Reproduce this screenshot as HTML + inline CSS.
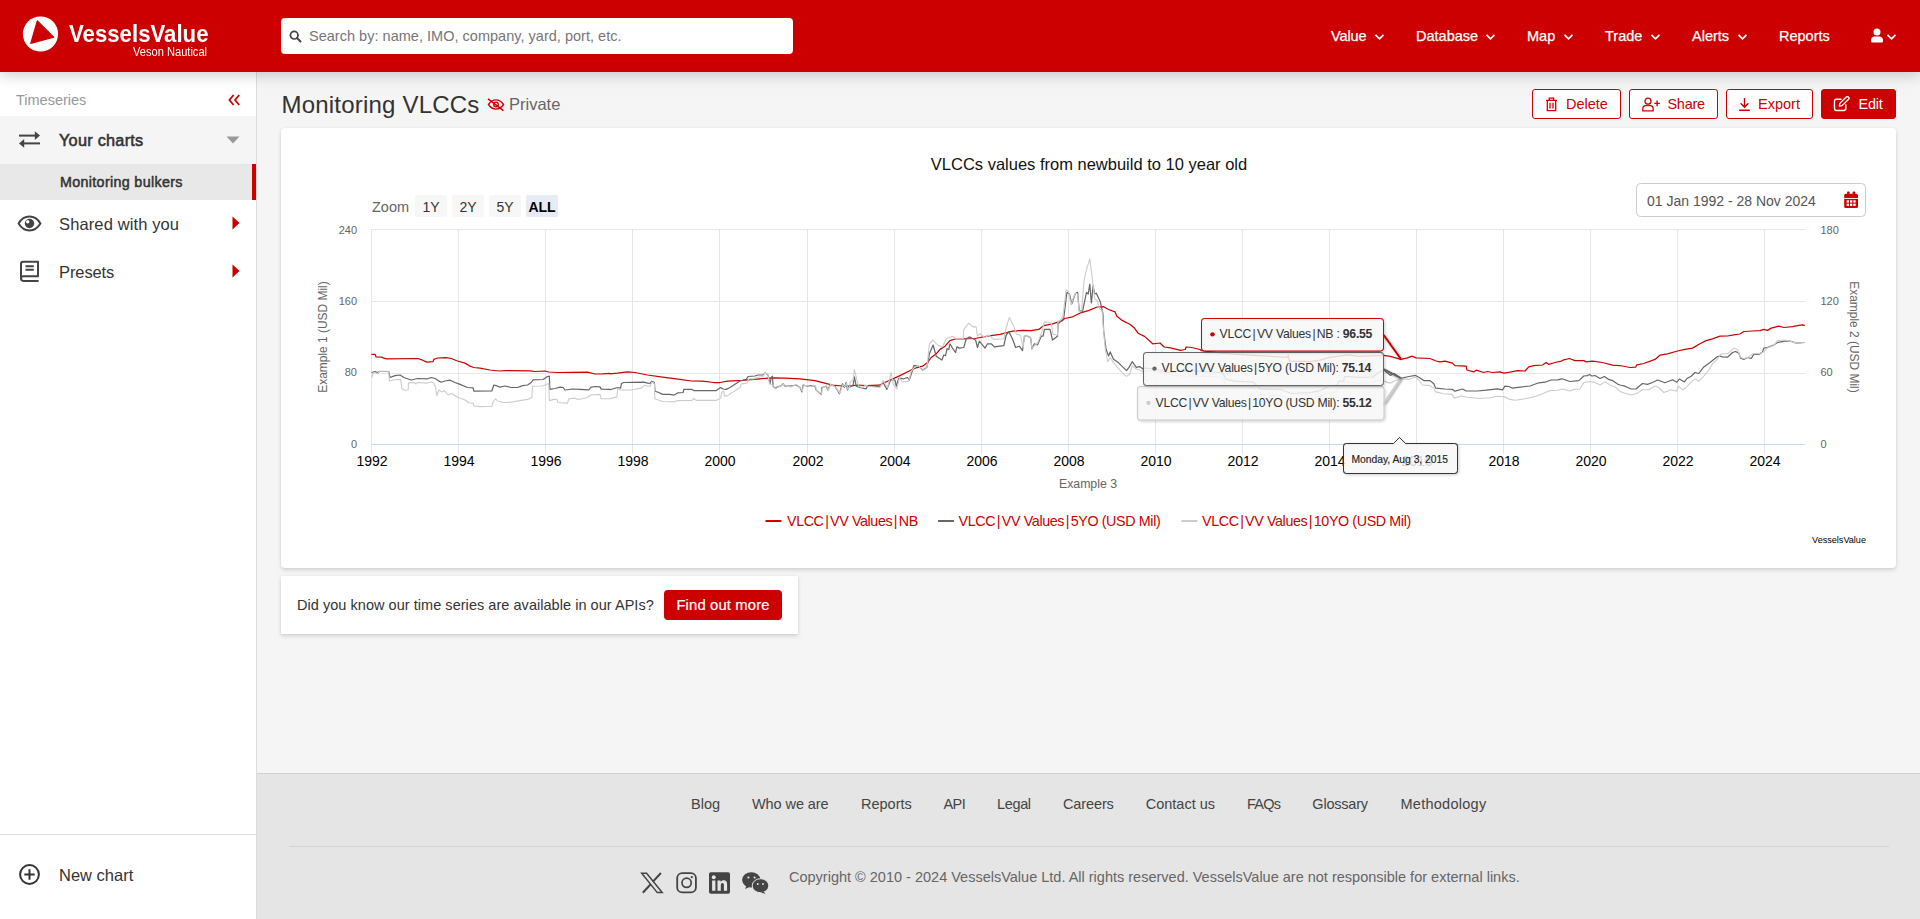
<!DOCTYPE html>
<html lang="en">
<head>
<meta charset="utf-8">
<title>Monitoring VLCCs - VesselsValue</title>
<style>
*{box-sizing:border-box;margin:0;padding:0}
html,body{width:1920px;height:919px;overflow:hidden}
body{font-family:"Liberation Sans",sans-serif;background:#f5f5f5;color:#333;position:relative;font-size:14px}
.abs{position:absolute;white-space:nowrap}
/* header */
#hdr{position:absolute;left:0;top:0;width:1920px;height:72px;background:#cc0000;box-shadow:0 3px 14px rgba(0,0,0,.2);z-index:10}
#logo-t{left:69px;top:19px;font-size:24px;font-weight:bold;color:#fff;line-height:30px;transform:scaleX(.925);transform-origin:0 0}
#logo-s{left:133px;top:45px;font-size:12px;color:#fff;line-height:14px;transform:scaleX(.925);transform-origin:0 0}
#search{position:absolute;left:281px;top:18px;width:512px;height:36px;background:#fff;border-radius:4px}
#search span{position:absolute;left:28px;top:1px;line-height:35px;font-size:14.5px;letter-spacing:.02px;color:#777}
.nav{position:absolute;top:.5px;line-height:71px;color:#fff;font-size:14.5px;white-space:nowrap;-webkit-text-stroke:.25px #fff}
.chev{position:absolute;top:33px;width:11px;height:8px}
/* sidebar */
#side{position:absolute;left:0;top:72px;width:257px;height:847px;background:#fff;border-right:1px solid #dcdcdc}
.row{position:absolute;left:0;width:256px}
.row .t{position:absolute;left:59px;white-space:nowrap;color:#333}
/* main */
#title{left:281.5px;top:88.5px;font-size:24px;line-height:32px;color:#333;letter-spacing:.2px}
.btn{position:absolute;top:89px;height:30px;border:1px solid #cc0000;border-radius:3px;background:#fff;color:#cc0000;font-size:14.5px;line-height:28px;white-space:nowrap}
.btn span{position:absolute;top:0}
.card{position:absolute;background:#fff;border-radius:4px;box-shadow:0 2px 4px rgba(0,0,0,.15),0 0 2px rgba(0,0,0,.05)}
/* footer */
#foot{position:absolute;left:257px;top:773px;width:1663px;height:146px;background:#e5e5e5;border-top:1px solid #d0d0d0}
#foot a{position:absolute;top:20px;font-size:14.5px;color:#444;line-height:20px;text-decoration:none;white-space:nowrap}
</style>
</head>
<body>

<!-- ================= HEADER ================= -->
<div id="hdr">
  <svg class="abs" style="left:22px;top:15px" width="38" height="38" viewBox="0 0 38 38">
    <circle cx="18.5" cy="19" r="17.6" fill="#fff"/>
    <path d="M15.300 5.800 L31.700 22.200 L8.800 28.300 Z" fill="#cc0000" stroke="#cc0000" stroke-width="1.200" stroke-linejoin="round"/>
  </svg>
  <div id="logo-t" class="abs">VesselsValue</div>
  <div id="logo-s" class="abs">Veson Nautical</div>

  <div id="search">
    <svg class="abs" style="left:7.500px;top:11.500px" width="13" height="13" viewBox="0 0 13 13"><circle cx="5.200" cy="5.200" r="3.800" fill="none" stroke="#444" stroke-width="1.700"/><path d="M8 8 L11.500 11.500" stroke="#444" stroke-width="2" stroke-linecap="round"/></svg>
    <span>Search by: name, IMO, company, yard, port, etc.</span>
  </div>

  <div class="nav" style="left:1331px;letter-spacing:-.1px">Value</div>
  <svg class="chev" style="left:1374px" viewBox="0 0 11 8"><path d="M1.5 1.8 L5.5 5.8 L9.5 1.8" fill="none" stroke="#fff" stroke-width="1.7"/></svg>
  <div class="nav" style="left:1416px">Database</div>
  <svg class="chev" style="left:1485px" viewBox="0 0 11 8"><path d="M1.5 1.8 L5.5 5.8 L9.5 1.8" fill="none" stroke="#fff" stroke-width="1.7"/></svg>
  <div class="nav" style="left:1527px">Map</div>
  <svg class="chev" style="left:1563px" viewBox="0 0 11 8"><path d="M1.5 1.8 L5.5 5.8 L9.5 1.8" fill="none" stroke="#fff" stroke-width="1.7"/></svg>
  <div class="nav" style="left:1605px">Trade</div>
  <svg class="chev" style="left:1650px" viewBox="0 0 11 8"><path d="M1.5 1.8 L5.5 5.8 L9.5 1.8" fill="none" stroke="#fff" stroke-width="1.7"/></svg>
  <div class="nav" style="left:1692px">Alerts</div>
  <svg class="chev" style="left:1737px" viewBox="0 0 11 8"><path d="M1.5 1.8 L5.5 5.8 L9.5 1.8" fill="none" stroke="#fff" stroke-width="1.7"/></svg>
  <div class="nav" style="left:1779px">Reports</div>
  <svg class="abs" style="left:1870px;top:28px" width="14" height="15" viewBox="0 0 14 15"><circle cx="7" cy="4" r="3.500" fill="#fff"/><path d="M1 13.200 V12 C1 9.700 2.700 8.500 4.600 8.500 H9.400 C11.300 8.500 13 9.700 13 12 V13.200 C13 14 12.500 14.500 11.700 14.500 H2.300 C1.500 14.500 1 14 1 13.200 Z" fill="#fff"/></svg>
  <svg class="chev" style="left:1886px" viewBox="0 0 11 8"><path d="M1.5 1.8 L5.5 5.8 L9.5 1.8" fill="none" stroke="#fff" stroke-width="1.7"/></svg>
</div>

<!-- ================= SIDEBAR ================= -->
<div id="side">
  <div class="abs" style="left:16px;top:18px;font-size:14.5px;line-height:20px;color:#999">Timeseries</div>
  <svg class="abs" style="left:228px;top:22px" width="13" height="12" viewBox="0 0 13 12"><path d="M5.6 1 L1.4 6 L5.6 11 M11.2 1 L7 6 L11.2 11" fill="none" stroke="#cc0000" stroke-width="1.800"/></svg>

  <div class="row" style="top:44px;height:48px;background:#f5f5f5">
    <svg class="abs" style="left:18px;top:15px" width="23" height="20" viewBox="0 0 23 20"><path d="M1 4.600 H17.500" stroke="#444" stroke-width="2"/><path d="M16.800 0.300 L22 4.600 L16.800 8.900 Z" fill="#444"/><path d="M22 12.400 H5.500" stroke="#444" stroke-width="2"/><path d="M6.200 8.100 L1 12.400 L6.200 16.700 Z" fill="#444"/></svg>
    <div class="t" style="top:13px;font-size:16.3px;line-height:22px;-webkit-text-stroke:.55px #333;letter-spacing:.25px">Your charts</div>
    <svg class="abs" style="left:226px;top:20px" width="14" height="8" viewBox="0 0 14 8"><path d="M0.5 0.5 H13.5 L7 7.5 Z" fill="#999"/></svg>
  </div>
  <div class="row" style="top:92px;height:36px;background:#e8e8e8">
    <div class="t" style="left:60px;top:8px;font-size:14.3px;line-height:20px;-webkit-text-stroke:.5px #333;letter-spacing:.33px">Monitoring bulkers</div>
    <div class="abs" style="left:252px;top:0;width:4px;height:36px;background:#cc0000"></div>
  </div>
  <div class="row" style="top:128px;height:48px">
    <svg class="abs" style="left:17px;top:15px" width="26" height="18" viewBox="0 0 26 18"><path d="M1.600 8.500 C5 2.800 8.800 1.600 12.500 1.600 C16.200 1.600 20 2.800 23.400 8.500 C20 14.200 16.200 15.400 12.500 15.400 C8.800 15.400 5 14.200 1.600 8.500 Z" fill="none" stroke="#444" stroke-width="2"/><circle cx="12.500" cy="8.500" r="4.700" fill="#444"/><circle cx="10.700" cy="6.700" r="1.700" fill="#fff"/></svg>
    <div class="t" style="top:13px;font-size:16.5px;line-height:22px;letter-spacing:.12px">Shared with you</div>
    <svg class="abs" style="left:232px;top:15.500px" width="8" height="14" viewBox="0 0 8 14"><path d="M0.5 0.5 L7.5 7 L0.5 13.500 Z" fill="#cc0000"/></svg>
  </div>
  <div class="row" style="top:176px;height:48px">
    <svg class="abs" style="left:19px;top:12.300px" width="21" height="23" viewBox="0 0 21 23"><path d="M2 18.500 V4 C2 2.600 2.900 1.700 4.300 1.700 H19 V16.300 H4.500 C3 16.300 2 17.200 2 18.600 C2 20 3 20.900 4.500 20.900 H19.600" fill="none" stroke="#444" stroke-width="2" stroke-linejoin="round"/><path d="M6.500 6.300 H14.800 M6.500 9.800 H14.800" stroke="#444" stroke-width="1.900"/></svg>
    <div class="t" style="top:13px;font-size:16.5px;line-height:22px;letter-spacing:-.1px">Presets</div>
    <svg class="abs" style="left:232px;top:15.500px" width="8" height="14" viewBox="0 0 8 14"><path d="M0.5 0.5 L7.5 7 L0.5 13.500 Z" fill="#cc0000"/></svg>
  </div>

  <div class="abs" style="left:0;top:762px;width:256px;height:1px;background:#ddd"></div>
  <svg class="abs" style="left:18px;top:791px" width="23" height="23" viewBox="0 0 23 23"><circle cx="11.500" cy="11.500" r="9.400" fill="none" stroke="#333" stroke-width="2"/><path d="M6.300 11.500 H16.700 M11.500 6.300 V16.700" stroke="#333" stroke-width="2"/></svg>
  <div class="abs" style="left:59px;top:792px;font-size:16.5px;line-height:22px;color:#333">New chart</div>
</div>

<!-- ================= TITLE + BUTTONS ================= -->
<div id="title" class="abs">Monitoring VLCCs</div>
<svg class="abs" style="left:486px;top:96px" width="20" height="17" viewBox="0 0 20 17"><path d="M2.500 8.500 C5 4.800 7.500 3.900 10 3.900 C12.500 3.900 15 4.800 17.500 8.500 C15 12.200 12.500 13.100 10 13.100 C7.500 13.100 5 12.200 2.500 8.500 Z" fill="none" stroke="#cc0000" stroke-width="1.400"/><circle cx="10" cy="8.500" r="2.300" fill="none" stroke="#cc0000" stroke-width="1.300"/><path d="M2 2.800 L17.500 14.600" stroke="#cc0000" stroke-width="1.500"/></svg>
<div class="abs" style="left:509px;top:93px;font-size:16.500px;line-height:22px;color:#666">Private</div>

<div class="btn" style="left:1532px;width:89px">
  <svg class="abs" style="left:12px;top:7px" width="13" height="15" viewBox="0 0 13 15"><path d="M1 3.300 H12 M4.300 3 V1.200 H8.700 V3 M2.300 3.500 V13.600 H10.700 V3.500 M5 5.800 V11.400 M8 5.800 V11.400" fill="none" stroke="#cc0000" stroke-width="1.300"/></svg>
  <span style="left:33px">Delete</span>
</div>
<div class="btn" style="left:1629px;width:89px">
  <svg class="abs" style="left:12px;top:7px" width="19" height="15" viewBox="0 0 19 15"><circle cx="6" cy="4.200" r="3" fill="none" stroke="#cc0000" stroke-width="1.300"/><path d="M0.800 13.800 V12 C0.800 9.800 2.300 8.700 4 8.700 H8 C9.700 8.700 11.200 9.800 11.200 12 V13.800 Z" fill="none" stroke="#cc0000" stroke-width="1.300"/><path d="M12.300 6.400 H17.900 M15.100 3.600 V9.200" stroke="#cc0000" stroke-width="1.400"/></svg>
  <span style="left:37.500px;letter-spacing:-.3px">Share</span>
</div>
<div class="btn" style="left:1726px;width:87px">
  <svg class="abs" style="left:11px;top:7px" width="13" height="15" viewBox="0 0 13 15"><path d="M6.500 1 V10 M2.600 6.300 L6.500 10.200 L10.400 6.300 M1.200 13.300 H11.800" fill="none" stroke="#cc0000" stroke-width="1.400"/></svg>
  <span style="left:31px">Export</span>
</div>
<div class="btn" style="left:1821px;width:75px;background:#cc0000;color:#fff">
  <svg class="abs" style="left:11px;top:6px" width="18" height="16" viewBox="0 0 18 16"><path d="M8.500 3.200 H3.400 C2.300 3.200 1.500 4 1.500 5.100 V12.600 C1.500 13.700 2.300 14.500 3.400 14.500 H10.900 C12 14.500 12.800 13.700 12.800 12.600 V8.300" fill="none" stroke="#fff" stroke-width="1.400"/><path d="M6.300 10 L6.800 7.400 L13.300 1 C13.900 0.400 14.700 0.400 15.300 1 L15.600 1.300 C16.200 1.900 16.200 2.700 15.600 3.300 L9.100 9.600 Z" fill="none" stroke="#fff" stroke-width="1.300" stroke-linejoin="round"/></svg>
  <span style="left:36.500px;letter-spacing:-.25px">Edit</span>
</div>

<!-- ================= CHART CARD ================= -->
<div class="card" style="left:281px;top:128px;width:1615px;height:440px"></div>
<svg class="abs" style="left:281px;top:128px" width="1615" height="439" viewBox="281 128 1615 439" font-family='"Liberation Sans",sans-serif'>
<defs><filter id="sh" x="-10%" y="-20%" width="120%" height="150%"><feDropShadow dx="1" dy="1" stdDeviation=".9" flood-color="#000" flood-opacity=".34"/></filter><filter id="sh2" filterUnits="userSpaceOnUse" x="1370" y="320" width="50" height="100"><feDropShadow dx="1" dy="1" stdDeviation=".8" flood-color="#000" flood-opacity=".3"/></filter><clipPath id="plot"><rect x="371" y="229" width="1435" height="216"/></clipPath></defs>
<text x="1089" y="169.500" text-anchor="middle" font-size="16.500" fill="#111">VLCCs values from newbuild to 10 year old</text>
<text x="372" y="212" font-size="14.500" fill="#666">Zoom</text>
<rect x="415" y="195" width="32" height="22" rx="2" fill="#f7f7f7"/>
<text x="431" y="212" text-anchor="middle" font-size="14" fill="#333">1Y</text>
<rect x="452" y="195" width="32" height="22" rx="2" fill="#f7f7f7"/>
<text x="468" y="212" text-anchor="middle" font-size="14" fill="#333">2Y</text>
<rect x="489" y="195" width="32" height="22" rx="2" fill="#f7f7f7"/>
<text x="505" y="212" text-anchor="middle" font-size="14" fill="#333">5Y</text>
<rect x="526" y="195" width="32" height="22" rx="2" fill="#e6ebf5"/>
<text x="542" y="212" text-anchor="middle" font-size="14" fill="#000" font-weight="bold">ALL</text>
<rect x="1636.500" y="183.500" width="229" height="33" rx="4" fill="#fff" stroke="#ccc"/>
<text x="1647" y="205.500" font-size="14" fill="#555">01 Jan 1992 - 28 Nov 2024</text>
<g fill="#cc0000"><rect x="1844.200" y="193.700" width="13.800" height="14.300" rx="1.600"/><rect x="1847.100" y="191.500" width="2.500" height="4" rx=".7"/><rect x="1852.700" y="191.500" width="2.500" height="4" rx=".7"/></g>
<rect x="1844.200" y="198.100" width="13.800" height=".9" fill="#fff"/>
<g fill="#fff">
<rect x="1846.65" y="200.30" width="2.300" height="2.300"/>
<rect x="1850.00" y="200.30" width="2.300" height="2.300"/>
<rect x="1853.35" y="200.30" width="2.300" height="2.300"/>
<rect x="1846.65" y="203.65" width="2.300" height="2.300"/>
<rect x="1850.00" y="203.65" width="2.300" height="2.300"/>
<rect x="1853.35" y="203.65" width="2.300" height="2.300"/>
</g>
<g stroke="#e6e6e6" stroke-width="1">
<path d="M371.5 230 V454"/>
<path d="M458.5 230 V454"/>
<path d="M545.5 230 V454"/>
<path d="M632.5 230 V454"/>
<path d="M719.5 230 V454"/>
<path d="M807.5 230 V454"/>
<path d="M894.5 230 V454"/>
<path d="M981.5 230 V454"/>
<path d="M1068.5 230 V454"/>
<path d="M1155.5 230 V454"/>
<path d="M1242.5 230 V454"/>
<path d="M1329.5 230 V454"/>
<path d="M1416.5 230 V454"/>
<path d="M1503.5 230 V454"/>
<path d="M1590.5 230 V454"/>
<path d="M1677.5 230 V454"/>
<path d="M1764.5 230 V454"/>
<path d="M371 229.5 H1805"/>
<path d="M371 301.5 H1805"/>
<path d="M371 373.5 H1805"/>
</g>
<g stroke="#ccd6eb" stroke-width="1"><path d="M371 444.500 H1805"/></g>
<g font-size="14" fill="#000" text-anchor="middle">
<text x="372" y="466">1992</text>
<text x="459" y="466">1994</text>
<text x="546" y="466">1996</text>
<text x="633" y="466">1998</text>
<text x="720" y="466">2000</text>
<text x="808" y="466">2002</text>
<text x="895" y="466">2004</text>
<text x="982" y="466">2006</text>
<text x="1069" y="466">2008</text>
<text x="1156" y="466">2010</text>
<text x="1243" y="466">2012</text>
<text x="1330" y="466">2014</text>
<text x="1417" y="466">2016</text>
<text x="1504" y="466">2018</text>
<text x="1591" y="466">2020</text>
<text x="1678" y="466">2022</text>
<text x="1765" y="466">2024</text>
</g>
<g font-size="11" fill="#666" text-anchor="end">
<text x="357" y="234">240</text>
<text x="357" y="304.8">160</text>
<text x="357" y="376.3">80</text>
<text x="357" y="448">0</text>
</g><g font-size="11" fill="#666">
<text x="1820.500" y="234">180</text>
<text x="1820.500" y="304.8">120</text>
<text x="1820.500" y="376.3">60</text>
<text x="1820.500" y="448">0</text>
</g>
<text transform="translate(327,337) rotate(-90)" text-anchor="middle" font-size="11.950" fill="#666">Example 1 (USD Mil)</text>
<text transform="translate(1850,337) rotate(90)" text-anchor="middle" font-size="11.950" fill="#666">Example 2 (USD Mil)</text>
<text x="1088" y="488" text-anchor="middle" font-size="12.300" fill="#666">Example 3</text>
<g clip-path="url(#plot)" fill="none" stroke-linejoin="round" stroke-linecap="round">
<path d="M371.9 354.4 L375.2 354.4 L376 356.9 L381.9 357.1 L383.8 358.2 L386.9 358.8 L418.1 358.5 L422.5 360.2 L426.9 362.1 L433.1 361.6 L433.8 359.4 L437.5 358 L446.2 357.6 L451.2 358.5 L457.5 361 L465 363.1 L470 366.2 L473.8 367.5 L480 368.1 L490 370 L498.8 371 L506.2 370.6 L530 370.8 L535 371.5 L545 371 L548.8 372 L557.5 372.5 L587.5 372.1 L595 374 L602.5 373.8 L609.8 373.4 L610 373.8 L617.5 373.1 L627.5 371.9 L635 372.5 L647.5 375 L662.5 377.2 L680 379.4 L691.2 381 L702.5 381.2 L713.8 382.5 L720 382.5 L727.5 381.2 L742.5 380.4 L760 378.8 L772.5 377.8 L785 378.1 L800 378.8 L815 380.6 L832.5 385.2 L842.5 386 L849.8 386.2 L850 386.2 L857.5 385 L866.2 385.6 L878.8 385.2 L887.5 381.2 L900 375.6 L908.8 371.2 L915 368.1 L922.5 366.2 L927.5 362.5 L931.2 357.5 L936.2 353.8 L940 349.4 L945 346.2 L950 340.6 L955 339 L962.5 338.8 L975 338.5 L987.5 336.2 L1000 334.4 L1012.5 331.2 L1022.5 330.4 L1031.2 330.6 L1038.8 329.4 L1043.8 325.6 L1052.5 323.8 L1062.5 320.6 L1064.5 318.5 L1072.7 316.8 L1080.8 312.8 L1089 310.3 L1097.1 307 L1103.7 306.7 L1108.6 309.5 L1115.1 311.9 L1116.7 316 L1121.6 320.1 L1129.8 324.2 L1134.7 328.3 L1138 333.2 L1144.5 336.4 L1152.7 343.8 L1160 343 L1164.1 347 L1170.6 347.9 L1180.4 350.3 L1185.3 349.5 L1186.1 347 L1191.8 347.5 L1200 349.5 L1201.5 350.7 L1224.7 353.5 L1253.3 355.4 L1287.5 357.4 L1288.5 355.4 L1289.4 361.2 L1310.4 361.7 L1319.9 360.2 L1329.4 357.4 L1348.4 354.9 L1358 356.4 L1383.7 355.4 L1390.3 356.4 L1400.8 359.3 L1407.5 357.8 L1411.9 356.2 L1416.2 357.8 L1430 358.5 L1436.2 361 L1440 361.9 L1445 361.2 L1452.5 363.1 L1455 365.6 L1466.2 366.2 L1466.9 370 L1473.8 371.9 L1476.2 370.2 L1483.8 372.5 L1487.5 371.5 L1492.5 372.5 L1500 371.9 L1503.8 373.1 L1510 372.2 L1517.5 370.6 L1525 371 L1528.8 366.9 L1533.8 365.6 L1542.5 365 L1546.2 362.5 L1548.8 364.4 L1555 362.5 L1561.2 361.2 L1563.8 359.8 L1569.4 358.5 L1575 360.6 L1583.8 360.6 L1586.2 361.9 L1592.5 361.2 L1602.5 362.5 L1612.5 365.2 L1619.8 365.6 L1622.5 366 L1630 367.5 L1635.6 367.2 L1636.9 364.8 L1643.8 363.5 L1655 359.4 L1660 355.2 L1667.5 353.8 L1677.5 351 L1685 349.4 L1692.5 348.1 L1700 343.8 L1706.2 340.6 L1712.5 338.8 L1720 336.2 L1727.5 336 L1733.8 334.8 L1740 334 L1743.8 331.5 L1752.5 331 L1760 330.6 L1763.8 329.4 L1767.5 330.4 L1771.2 328.1 L1778.8 326.2 L1783.8 327.5 L1792.5 326.6 L1798.8 325.4 L1802.5 324.8 L1804.4 325.4" stroke="#cc0000" stroke-width="1.250"/>
<path d="M371.9 372.5 L375 371.5 L377.5 372.5 L380 371.5 L388.8 371.5 L390 377.5 L395 375.6 L400 375 L403.8 377.5 L411.2 380 L417.5 378.5 L427.5 378.8 L431.2 377.5 L435 378.5 L438.1 380.6 L441.2 382.2 L445 381 L450 380.2 L455 382.5 L460 384.4 L467.5 387.5 L473.1 387.9 L473.8 391.2 L491.9 391 L493.8 385 L496.2 385.6 L500 387.2 L505 386 L511.2 387.5 L517.5 387.5 L522.5 385.6 L527.5 385 L531.2 382.5 L533.1 379.8 L543.1 379.5 L547.5 376.5 L549.4 376.2 L549.8 389.4 L555 388.5 L560 387.2 L563.1 387.5 L565 390 L572.5 389 L580 389.4 L588.8 389.8 L591.2 387.1 L595 386.5 L600 386.9 L601.2 389.1 L609.8 389.4 L610 389.8 L617.5 387.5 L620.6 388.1 L621.5 383.5 L623.8 382.5 L643.8 382.2 L647.5 383.1 L650 383.5 L651.9 381.2 L654.4 382.5 L655 391.2 L658.8 392.5 L662.5 394.4 L670 394.4 L673.8 395.2 L678.1 392.8 L683.1 392.5 L683.8 389.4 L691.9 389.4 L693.8 390.6 L716.2 390.6 L720.6 387.5 L723.1 389 L726.2 389.4 L730 387.5 L740 381 L746.2 379.4 L748.1 376.5 L755 376 L758.1 375 L763.1 374.8 L765 372.8 L768.1 375 L770 383.8 L771.2 377.5 L772.5 376.2 L773.1 386.2 L775 388.1 L781.2 385.6 L783.1 383.8 L785 386.2 L790 386.2 L796.2 385 L800 387.5 L801.9 391.9 L803.1 385 L807.5 386.2 L810 385.6 L815 386.2 L816.2 390 L821.2 394.4 L821.9 387.5 L826.2 386.2 L828.1 390 L830 385 L835 386.2 L839.4 393.8 L842.5 383.8 L844.4 387.5 L846.2 382.5 L847.5 390 L849.8 385 L850 386.9 L853.1 385 L854.4 376.9 L856.2 386.2 L860 387.5 L866.2 388.8 L867.5 386.2 L880 386.5 L883.1 382.5 L886.9 389.4 L890.6 380 L895 380 L896.2 386.2 L898.8 378.1 L903.8 378.8 L907.5 377.5 L909.4 380 L912.5 370 L913.8 365.6 L918.1 365.6 L922.5 370 L926.9 367.5 L929.4 353.8 L933.1 345 L936.2 356.2 L941.9 360 L943.8 355 L945.6 355.6 L946.9 348.8 L948.8 349.4 L950 343.8 L952.5 348.1 L955.6 352.5 L956.9 346.9 L959.4 348.1 L963.8 347.5 L966.2 338.8 L969.4 336.9 L973.1 338.8 L975.6 340 L977.5 347.5 L979.4 341.2 L985 348.1 L987.5 343.8 L991.2 343.8 L994.4 346.9 L1003.8 345.6 L1006.2 335 L1008.8 331.9 L1012.5 338.8 L1015.6 347.5 L1019.4 346.2 L1022.5 350.6 L1024.4 336.2 L1027.5 336.2 L1030.6 337.5 L1031.9 348.8 L1034.4 343.8 L1037.5 345 L1041.2 336.2 L1043.1 336.2 L1044.4 329.4 L1050 329.4 L1052.5 340 L1057.5 336.2 L1058.1 323.1 L1058.8 323.4 L1063.7 318.5 L1066.9 292.3 L1069.4 294 L1071.8 303.8 L1075.1 294 L1077.6 292.3 L1079.2 310.3 L1082.4 311.9 L1086.5 292.3 L1088.2 294 L1089.8 284.2 L1091.4 303 L1093.1 285.8 L1094.7 294 L1096.3 293.2 L1100.4 302.1 L1102.9 313.6 L1103.7 331.5 L1106.1 349.5 L1108.6 356 L1110.2 351.9 L1113.5 359.3 L1118.4 362.6 L1121.6 365.8 L1126.5 370.7 L1129 367.4 L1132.2 361.7 L1136.3 367.4 L1139.6 366.6 L1142.9 369.1 L1143.2 367.8 L1158.1 369.7 L1167.6 372.6 L1186.6 370.7 L1205.7 371.6 L1222.8 372.6 L1225.7 379.2 L1234.2 381.1 L1253.3 382.1 L1259.9 388.8 L1281.8 389.7 L1291.3 393.5 L1310.4 392.6 L1319.9 390.7 L1327.5 386.9 L1337 385 L1338.9 381.1 L1343.7 381.1 L1344.6 376.4 L1358 377.3 L1373.2 377 L1377 373.5 L1383.7 369.7 L1390.3 375.4 L1394.1 373.5 L1400.8 378.3 L1408.8 376.5 L1415.6 375.4 L1420 378.1 L1423.8 380.6 L1430 380.6 L1433.8 383.8 L1435.6 388.1 L1445 389 L1452.5 389.4 L1455 391.2 L1462.5 389 L1466.2 391 L1477.5 391 L1486.2 390.2 L1497.5 388.8 L1502.5 389.8 L1505 386.2 L1508.8 386.5 L1512.5 388.1 L1520 387.2 L1530 386 L1538.8 382.8 L1545 382.2 L1551.2 380 L1557.5 379.8 L1561.9 378.8 L1570 381.5 L1578.8 380.6 L1583.8 376 L1587.5 375.6 L1589.4 374.4 L1591.9 376 L1595 375.6 L1600 378.5 L1604.4 376.5 L1608.8 379.4 L1612.5 380.6 L1617.5 384 L1619.8 385 L1625 386.2 L1631.2 389 L1636.2 388.8 L1642.5 383.5 L1647.5 384.4 L1652.5 382.5 L1657.5 380 L1665 382.8 L1672.5 379.8 L1676.9 382.2 L1679.4 379 L1684.4 381.9 L1686.9 378.5 L1691.2 376.2 L1695 372.5 L1698.8 373.5 L1703.8 366.9 L1710 362.5 L1717.5 356.5 L1720 356.2 L1722.5 356.9 L1727.5 357.2 L1732.5 352.5 L1735.6 351.5 L1738.8 353.1 L1740.6 358.1 L1743.8 359.4 L1747.5 357.5 L1751.2 358.5 L1753.8 354.4 L1758.8 354.4 L1762.5 351.9 L1763.8 348.1 L1767.5 347.5 L1773.8 345 L1777.5 342.5 L1785 341.2 L1790 341 L1796.2 343.1 L1804.4 342.5" stroke="#666666" stroke-width="1.200"/>
<path d="M371.9 377.5 L373.1 373.1 L375 372.5 L377.5 373.8 L380 371.2 L388.8 371.2 L389.4 381.2 L392.5 380 L400.6 379.4 L401.9 388.8 L405 390.2 L408.1 390 L408.5 383.1 L413.8 382.5 L416.2 384 L417.5 382.5 L427.5 383.1 L431.2 381.9 L433.8 383.1 L435.6 387.5 L436.9 395.6 L438.8 390 L441.9 391.9 L444.4 390.6 L448.1 395 L451.9 393.5 L457.5 397.2 L465 400 L468.8 402.8 L473.1 403.1 L473.8 406 L480 406.6 L491.9 406.2 L493.1 401.5 L495.6 398.8 L497.5 401 L503.8 402.5 L508.8 402.5 L520 400.6 L527.5 399.4 L531.9 397.5 L532.5 386.2 L542.5 386 L548.8 383.5 L549.4 400.6 L553.8 399.4 L556.9 399.4 L558.1 402.5 L567.5 403.1 L568.8 398.8 L575 398.1 L577.5 399.4 L582.5 398.8 L587.5 397.5 L590.6 395 L600 394.4 L601.2 398.8 L609.8 398.8 L610 398.8 L616.9 396.9 L617.8 388.1 L620 390 L631.2 390 L641.2 388.1 L644.4 385.2 L647.5 386.2 L650 386.2 L651.9 381.9 L654.4 383.8 L654.8 398.8 L662.5 401.5 L673.8 401.9 L677.5 400.6 L691.9 400.4 L693.8 398.5 L696.2 400.4 L716.2 400.4 L720.6 398.1 L721.9 391.9 L723.8 391.2 L724.4 396.2 L727.5 395.6 L740 387.5 L741.2 384 L746.9 383.1 L748.8 378.8 L753.8 379 L757.5 377.2 L763.1 376.5 L765 372.2 L768.1 374.8 L769.4 383.8 L773.5 385.6 L775.4 388.9 L781.6 385 L783.5 384.5 L785.4 385.6 L790.4 387 L796.6 384.4 L800.4 388.2 L802.2 391.2 L803.5 385.8 L807.9 385.6 L810.4 386.4 L815.4 385.6 L816.6 390.8 L821.6 393.8 L822.2 388.2 L826.6 385.6 L828.5 390.8 L830.4 384.4 L835.4 387 L839.8 393.1 L842.9 384.5 L844.8 386.9 L846.6 383.2 L847.9 389.4 L849.8 386.2 L850 382.5 L853.1 380 L854.4 369.4 L856.9 380 L858.8 386.2 L862.5 387.5 L865.6 385 L868.1 386.2 L880 387.5 L883.1 380.6 L887.5 387.5 L891.2 372.5 L893.1 383.8 L896.9 388.8 L899.4 378.1 L902.5 381.9 L908.8 381.2 L911.2 371.2 L913.8 368.1 L918.1 365 L922.5 370.6 L926.9 368.1 L929.4 343.8 L933.1 340 L937.5 345 L942.5 346.9 L946.2 338.8 L952.5 336.2 L956.2 338.8 L963.1 338.8 L963.8 329.4 L968.8 323.1 L973.1 326.9 L976.2 326.9 L977.5 336.2 L980 333.8 L985 337.5 L988.8 335 L993.8 339.4 L1003.8 338.8 L1006.2 327.5 L1009.4 317.5 L1013.8 326.2 L1016.2 333.8 L1020.6 335.6 L1023.1 347.5 L1024.4 335.6 L1030.6 337.5 L1031.9 348.1 L1037.5 343.1 L1041.2 333.8 L1044.4 321.9 L1051.2 323.1 L1053.1 334.4 L1057.5 335 L1058.1 320.6 L1058.8 321.7 L1062.9 316.8 L1066.1 289.9 L1068.6 291.5 L1071 304.6 L1075.1 293.2 L1077.6 294 L1079.2 311.9 L1081.6 311.1 L1084.1 280.1 L1086.5 269.5 L1089.8 258.9 L1092.2 277.7 L1094.7 298.9 L1097.1 300.5 L1099.6 308.7 L1102 310.3 L1103.7 331.5 L1105.3 349.5 L1107.8 361.7 L1110.2 357.7 L1113.5 362.6 L1118.4 368.3 L1123.3 374 L1126.5 376.4 L1129.8 374 L1132.2 365.8 L1136.3 369.1 L1141.2 370.7 L1142.9 372.3 L1143.2 370.7 L1158.1 371.6 L1177.1 375.8 L1205.7 376.4 L1222.8 377 L1225.7 385 L1234.2 386.5 L1253.3 387.2 L1259.9 394.5 L1281.8 396 L1291.3 400.2 L1310.4 399.2 L1319.9 396.4 L1327.5 393.5 L1337 391.6 L1338.9 386.9 L1343.7 386.9 L1344.6 382.1 L1358 383.1 L1373.2 382.7 L1377 380.2 L1383.7 381.1 L1390.3 383.1 L1396 380.2 L1400.8 378.9 L1408.8 379.4 L1415 376.9 L1418.8 380 L1422.5 385 L1430 385.6 L1433.8 388.1 L1435.6 391.9 L1443.8 393.8 L1451.9 394.4 L1454.4 398.1 L1461.2 396 L1467.5 397.2 L1480 398.5 L1490 397.8 L1497.5 396.2 L1505 396.9 L1510 399.4 L1515 400.2 L1523.8 399 L1533.8 396.9 L1542.5 393.8 L1550 390.6 L1557.5 390.2 L1562.5 389 L1570 391 L1573.8 389.4 L1580 389 L1583.8 382.5 L1590 381.5 L1595 382.5 L1600 385 L1605 381.9 L1610 385 L1615 386.9 L1619.8 391.2 L1622.5 392.5 L1631.2 395 L1637.5 393.1 L1642.5 389.8 L1648.8 389.8 L1655 386 L1658.8 387.5 L1663.8 392.5 L1671.2 389.8 L1676.2 391.2 L1678.8 386.2 L1682.5 389.8 L1686.2 387.5 L1690 383.1 L1695 378.8 L1698.8 381.2 L1703.8 376.2 L1708.8 370 L1712.5 363.8 L1717.5 358.8 L1721.2 353.8 L1727.5 353.8 L1733.8 348.1 L1737.5 349.4 L1740 356.9 L1743.8 358.8 L1748.8 356.9 L1752.5 353.8 L1758.8 353.8 L1763.8 351.9 L1767.5 348.1 L1773.8 345.6 L1777.5 340.6 L1785 340 L1790 341.2 L1796.2 343.1 L1804.4 342.5" stroke="#cccccc" stroke-width="1.100"/>
</g>
<path d="M1140.5 386.5 H1381 Q1384 386.5 1384 389.5 V403.25 L1400.5 378.5 L1384 403.25 V417 Q1384 420 1381 420 H1140.5 Q1137.5 420 1137.5 417 V389.5 Q1137.5 386.5 1140.5 386.5 Z" fill="none" stroke="#cccccc" stroke-width="1" filter="url(#sh)"/>
<path d="M1140.5 386.5 H1381 Q1384 386.5 1384 389.5 V403.25 L1400.5 378.5 L1384 403.25 V417 Q1384 420 1381 420 H1140.5 Q1137.5 420 1137.5 417 V389.5 Q1137.5 386.5 1140.5 386.5 Z" fill="rgba(247,247,247,.85)" stroke="#cccccc" stroke-width="1"/>
<circle cx="1148.5" cy="402.85" r="2.200" fill="#cccccc"/>
<path d="M1384 403.25 L1400.5 378.5" stroke="#cccccc" stroke-width="1.800" fill="none" filter="url(#sh2)"/>
<text x="1155.5" y="406.55" font-size="12.200" fill="#333" textLength="216.4" lengthAdjust="spacing">VLCC<tspan dx="1.4">|</tspan><tspan dx="1.4">VV Values</tspan><tspan dx="1.4">|</tspan><tspan dx="1.4">10YO (USD Mil):</tspan> <tspan font-weight="bold">55.12</tspan></text>
<path d="M1146.5 352.5 H1380.5 Q1383.5 352.5 1383.5 355.5 V369 L1400.5 378 L1383.5 369 V382.5 Q1383.5 385.5 1380.5 385.5 H1146.5 Q1143.5 385.5 1143.5 382.5 V355.5 Q1143.5 352.5 1146.5 352.5 Z" fill="none" stroke="#666666" stroke-width="1" filter="url(#sh)"/>
<path d="M1146.5 352.5 H1380.5 Q1383.5 352.5 1383.5 355.5 V369 L1400.5 378 L1383.5 369 V382.5 Q1383.5 385.5 1380.5 385.5 H1146.5 Q1143.5 385.5 1143.5 382.5 V355.5 Q1143.5 352.5 1146.5 352.5 Z" fill="rgba(247,247,247,.85)" stroke="#666666" stroke-width="1"/>
<circle cx="1154.5" cy="368.6" r="2.200" fill="#666666"/>
<path d="M1383.5 369 L1400.5 378" stroke="#666666" stroke-width="1.800" fill="none" filter="url(#sh2)"/>
<text x="1161.5" y="372.3" font-size="12.200" fill="#333" textLength="209.8" lengthAdjust="spacing">VLCC<tspan dx="1.4">|</tspan><tspan dx="1.4">VV Values</tspan><tspan dx="1.4">|</tspan><tspan dx="1.4">5YO (USD Mil):</tspan> <tspan font-weight="bold">75.14</tspan></text>
<path d="M1204.5 318.5 H1380.5 Q1383.5 318.5 1383.5 321.5 V334.75 L1400.5 358.5 L1383.5 334.75 V348 Q1383.5 351 1380.5 351 H1204.5 Q1201.5 351 1201.5 348 V321.5 Q1201.5 318.5 1204.5 318.5 Z" fill="none" stroke="#cc0000" stroke-width="1" filter="url(#sh)"/>
<path d="M1204.5 318.5 H1380.5 Q1383.5 318.5 1383.5 321.5 V334.75 L1400.5 358.5 L1383.5 334.75 V348 Q1383.5 351 1380.5 351 H1204.5 Q1201.5 351 1201.5 348 V321.5 Q1201.5 318.5 1204.5 318.5 Z" fill="rgba(247,247,247,.85)" stroke="#cc0000" stroke-width="1"/>
<circle cx="1212.5" cy="334.35" r="2.200" fill="#cc0000"/>
<path d="M1383.5 334.75 L1400.5 358.5" stroke="#cc0000" stroke-width="1.800" fill="none" filter="url(#sh2)"/>
<text x="1219.5" y="338.05" font-size="12.200" fill="#333" textLength="152.9" lengthAdjust="spacing">VLCC<tspan dx="1.4">|</tspan><tspan dx="1.4">VV Values</tspan><tspan dx="1.4">|</tspan><tspan dx="1.4">NB :</tspan> <tspan font-weight="bold">96.55</tspan></text>
<path d="M1346.500 443.500 H1393.500 L1399.500 437.500 L1405.500 443.500 H1454.500 Q1457.500 443.500 1457.500 446.500 V470.500 Q1457.500 473.500 1454.500 473.500 H1346.500 Q1343.500 473.500 1343.500 470.500 V446.500 Q1343.500 443.500 1346.500 443.500 Z" fill="none" stroke="#333" stroke-width="1" filter="url(#sh)"/>
<path d="M1346.500 443.500 H1393.500 L1399.500 437.500 L1405.500 443.500 H1454.500 Q1457.500 443.500 1457.500 446.500 V470.500 Q1457.500 473.500 1454.500 473.500 H1346.500 Q1343.500 473.500 1343.500 470.500 V446.500 Q1343.500 443.500 1346.500 443.500 Z" fill="rgba(247,247,247,.85)" stroke="#333" stroke-width="1"/>
<text x="1351.500" y="462.500" font-size="10.300" fill="#222" stroke="#222" stroke-width=".15" textLength="96.500">Monday, Aug 3, 2015</text>
<g font-size="14.300" fill="#cc0000">
<path d="M765.5 521 h16" stroke="#cc0000" stroke-width="2"/>
<text x="787" y="526" textLength="131.2" lengthAdjust="spacing">VLCC<tspan dx="1.6">|</tspan><tspan dx="1.6">VV Values</tspan><tspan dx="1.6">|</tspan><tspan dx="1.6">NB</tspan></text>
<path d="M938 521 h16" stroke="#666666" stroke-width="2"/>
<text x="958.6" y="526" textLength="202.1" lengthAdjust="spacing">VLCC<tspan dx="1.6">|</tspan><tspan dx="1.6">VV Values</tspan><tspan dx="1.6">|</tspan><tspan dx="1.6">5YO (USD Mil)</tspan></text>
<path d="M1181.5 521 h16" stroke="#cccccc" stroke-width="2"/>
<text x="1202" y="526" textLength="209.2" lengthAdjust="spacing">VLCC<tspan dx="1.6">|</tspan><tspan dx="1.6">VV Values</tspan><tspan dx="1.6">|</tspan><tspan dx="1.6">10YO (USD Mil)</tspan></text>
</g>
<text x="1866" y="543" text-anchor="end" font-size="9.100" fill="#000">VesselsValue</text>
</svg>

<!-- ================= API CARD ================= -->
<div class="card" style="left:281px;top:576px;width:517px;height:58px;border-radius:0">
  <div class="abs" style="left:16px;top:18px;font-size:14.500px;line-height:22px;color:#333;letter-spacing:.04px">Did you know our time series are available in our APIs?</div>
  <div class="abs" style="left:383px;top:14px;width:118px;height:30px;border-radius:4px;background:#cc0000;color:#fff;font-size:14.800px;letter-spacing:.15px;-webkit-text-stroke:.2px #fff;line-height:30px;text-align:center">Find out more</div>
</div>

<!-- ================= FOOTER ================= -->
<div id="foot">
  <a style="left:434px">Blog</a>
  <a style="left:495px;letter-spacing:-.08px">Who we are</a>
  <a style="left:604px">Reports</a>
  <a style="left:686.5px;letter-spacing:-.6px">API</a>
  <a style="left:740px;letter-spacing:-.35px">Legal</a>
  <a style="left:806px;letter-spacing:-.12px">Careers</a>
  <a style="left:888.7px">Contact us</a>
  <a style="left:990px;letter-spacing:-.75px">FAQs</a>
  <a style="left:1055.3px;letter-spacing:-.2px">Glossary</a>
  <a style="left:1143.500px;letter-spacing:.26px">Methodology</a>
  <div class="abs" style="left:32px;top:72px;width:1600px;height:1px;background:#d4d4d4"></div>
  <svg class="abs" style="left:380px;top:93px" width="136" height="30" viewBox="637 867 136 30">
<path d="M641.700 873.200 H646.600 L662.200 892.600 H657.300 Z" fill="none" stroke="#444" stroke-width="1.500" stroke-linejoin="miter"/><path d="M660.900 873 L653 881.700 M650.700 884.200 L642.800 892.700" stroke="#444" stroke-width="2"/>
<rect x="677.200" y="873.100" width="18.700" height="19.300" rx="5" fill="none" stroke="#444" stroke-width="1.800"/><circle cx="686.600" cy="882.800" r="4.600" fill="none" stroke="#444" stroke-width="1.700"/><circle cx="691.800" cy="877.200" r="1.100" fill="#444"/>
<rect x="709" y="872.200" width="21" height="21.500" rx="1.800" fill="#444"/><rect x="712.100" y="880.500" width="3.300" height="10.200" fill="#e5e5e5"/><circle cx="713.750" cy="877.300" r="1.950" fill="#e5e5e5"/><path d="M717.500 890.700 V880.500 H720.600 V881.900 C721.300 880.800 722.400 880.200 723.700 880.200 C726.100 880.200 727.100 881.700 727.100 884.200 V890.700 H723.900 V884.900 C723.900 883.600 723.500 882.900 722.500 882.900 C721.400 882.900 720.800 883.700 720.800 884.900 V890.700 Z" fill="#e5e5e5"/>
<ellipse cx="751.300" cy="879.800" rx="9.200" ry="7.600" fill="#444"/><path d="M746.500 885.500 L745 889 L749.500 886.900 Z" fill="#444"/><ellipse cx="760.500" cy="885.700" rx="8.300" ry="7" fill="#444" stroke="#e5e5e5" stroke-width="1"/><path d="M763.500 891.500 L765.500 893.800 L761 892.700 Z" fill="#444"/><circle cx="748.400" cy="877.500" r="1.100" fill="#e5e5e5"/><circle cx="754.600" cy="877.500" r="1.100" fill="#e5e5e5"/><circle cx="757.800" cy="884" r=".95" fill="#e5e5e5"/><circle cx="763" cy="884" r=".95" fill="#e5e5e5"/>
</svg>
  <div class="abs" style="left:532px;top:93px;font-size:14.500px;line-height:20px;color:#666">Copyright © 2010 - 2024 VesselsValue Ltd. All rights reserved. VesselsValue are not responsible for external links.</div>
</div>

</body>
</html>
